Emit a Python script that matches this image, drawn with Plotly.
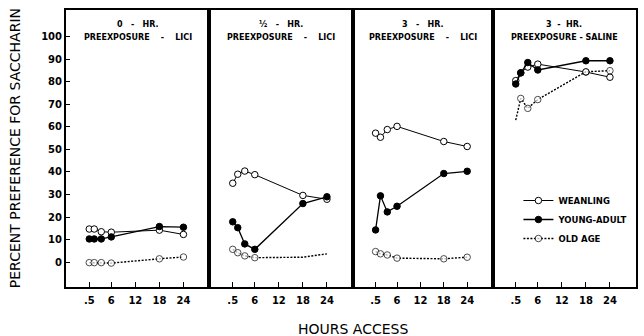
import plotly.graph_objects as go

# ---------------- data ----------------
hours = [0.5, 1.75, 3.5, 6, 18, 24]
tick_vals = [0.5, 6, 12, 18, 24]
tick_text = [".5", "6", "12", "18", "24"]
y_ticks = [0, 10, 20, 30, 40, 50, 60, 70, 80, 90, 100]

NB = "\u00a0"
panel_line1 = ["0" + NB * 3 + "-" + NB * 3 + "HR.", "½" + NB * 3 + "-" + NB * 3 + "HR.",
               "3" + NB * 3 + "-" + NB * 3 + "HR.", "3" + NB * 2 + "-" + NB * 2 + "HR."]
panel_line2 = ["PREEXPOSURE" + NB * 4 + "-" + NB * 4 + "LICI",
               "PREEXPOSURE" + NB * 4 + "-" + NB * 4 + "LICI",
               "PREEXPOSURE" + NB * 4 + "-" + NB * 4 + "LICI",
               "PREEXPOSURE" + NB + "-" + NB + "SALINE"]

weanling = [
    [14.7, 14.7, 13.5, 13.3, 14.2, 12.3],
    [35.0, 39.0, 40.4, 38.8, 29.6, 27.9],
    [57.2, 55.4, 58.8, 60.2, 53.5, 51.3],
    [80.5, 84.0, 86.5, 87.8, 84.3, 82.0],
]
young_adult = [
    [10.3, 10.3, 10.3, 11.2, 15.8, 15.5],
    [17.9, 15.3, 8.1, 5.7, 26.0, 29.0],
    [14.3, 29.4, 22.3, 24.8, 39.3, 40.3],
    [79.0, 83.9, 88.5, 85.2, 89.3, 89.3],
]
old_age = [
    [-0.2, -0.2, -0.2, -0.4, 1.5, 2.3],
    [5.7, 4.2, 2.8, 2.0, 2.2, 3.7],
    [4.7, 3.7, 3.2, 1.8, 1.5, 2.2],
    [63.0, 72.6, 68.2, 72.1, 84.4, 84.9],
]
old_age_marked = [
    [1, 1, 1, 1, 1, 1],
    [1, 1, 1, 1, 0, 0],
    [1, 1, 1, 1, 1, 1],
    [0, 1, 1, 1, 1, 1],
]
series_names = ["WEANLING", "YOUNG-ADULT", "OLD AGE"]

# ---------------- layout geometry ----------------
W, H = 644, 336
left, right, top, bottom = 66, 638, 10, 287
panel_edges = [66, 210, 354, 494, 638]
plot_w = right - left
plot_h = bottom - top
domains = [[(panel_edges[i] - left) / plot_w, (panel_edges[i + 1] - left) / plot_w]
           for i in range(4)]


def px_to_paper_y(py):
    return 1 - (py - top) / plot_h


def px_to_paper_x(px):
    return (px - left) / plot_w


FONT = "DejaVu Sans"
fig = go.Figure()

MS = 6.5
for i in range(4):
    xa = "x" if i == 0 else f"x{i + 1}"
    ya = "y" if i == 0 else f"y{i + 1}"
    show = (i == 0)
    fig.add_trace(go.Scatter(
        x=hours, y=weanling[i], mode="lines+markers", name=series_names[0],
        legendgroup="w", showlegend=show, xaxis=xa, yaxis=ya,
        line=dict(color="black", width=1),
        marker=dict(symbol="circle", size=MS, color="white",
                    line=dict(color="black", width=1)),
    ))
    fig.add_trace(go.Scatter(
        x=hours, y=young_adult[i], mode="lines+markers", name=series_names[1],
        legendgroup="y", showlegend=show, xaxis=xa, yaxis=ya,
        line=dict(color="black", width=1.3),
        marker=dict(symbol="circle", size=MS, color="black",
                    line=dict(color="black", width=1)),
    ))
    fig.add_trace(go.Scatter(
        x=hours, y=old_age[i], mode="lines+markers", name=series_names[2],
        legendgroup="o", showlegend=show, xaxis=xa, yaxis=ya,
        line=dict(color="black", width=1.4, dash="2px,1.5px"),
        marker=dict(symbol="circle", size=[MS * m for m in old_age_marked[i]],
                    color="white", line=dict(color="black", width=1)),
    ))

layout = dict(
    width=W, height=H,
    margin=dict(l=left, r=W - right, t=top, b=H - bottom, pad=0),
    paper_bgcolor="white", plot_bgcolor="white",
    font=dict(family=FONT, color="black"),
    legend=dict(x=px_to_paper_x(520), y=px_to_paper_y(186),
                xanchor="left", yanchor="top", bgcolor="rgba(0,0,0,0)",
                font=dict(family=FONT, size=8.5, weight="bold"),
                tracegroupgap=0, itemwidth=30),
)

for i in range(4):
    xk = "xaxis" if i == 0 else f"xaxis{i + 1}"
    yk = "yaxis" if i == 0 else f"yaxis{i + 1}"
    ya = "y" if i == 0 else f"y{i + 1}"
    layout[xk] = dict(
        domain=domains[i], range=[-5.3, 30.5], anchor=ya,
        tickmode="array", tickvals=tick_vals, ticktext=tick_text,
        ticks="inside", ticklen=5, tickwidth=1.2, tickcolor="black",
        ticklabelstandoff=3,
        showline=True, linecolor="black", linewidth=2, mirror=True,
        showgrid=False, zeroline=False,
        tickfont=dict(family=FONT, size=10, weight="bold"),
    )
    layout[yk] = dict(
        domain=[0, 1], range=[-11, 111.8], anchor="x" if i == 0 else f"x{i + 1}",
        tickmode="array", tickvals=y_ticks,
        ticks="inside" if i == 0 else "", ticklen=4, tickwidth=1.2, tickcolor="black",
        showticklabels=(i == 0),
        showline=True, linecolor="black", linewidth=2, mirror=True,
        showgrid=False, zeroline=False,
        tickfont=dict(family=FONT, size=10, weight="bold"),
    )

fig.update_layout(**layout)

# panel titles
annotations = []
for i in range(4):
    xr = "x domain" if i == 0 else f"x{i + 1} domain"
    annotations.append(dict(text=panel_line1[i], xref=xr, yref="paper", x=0.5,
                            y=px_to_paper_y(24), xanchor="center", yanchor="middle",
                            showarrow=False,
                            font=dict(family=FONT, size=8, weight="bold")))
    annotations.append(dict(text=panel_line2[i], xref=xr, yref="paper", x=0.5,
                            y=px_to_paper_y(37.5), xanchor="center", yanchor="middle",
                            showarrow=False,
                            font=dict(family=FONT, size=8, weight="bold")))

annotations.append(dict(text="PERCENT PREFERENCE FOR SACCHARIN", xref="paper", yref="paper",
                        x=px_to_paper_x(15), y=px_to_paper_y(148),
                        xanchor="center", yanchor="middle",
                        textangle=-90, showarrow=False,
                        font=dict(family=FONT, size=14)))
annotations.append(dict(text="HOURS ACCESS", xref="paper", yref="paper",
                        x=px_to_paper_x(354), y=px_to_paper_y(329),
                        xanchor="center", yanchor="middle",
                        showarrow=False, font=dict(family=FONT, size=14)))
fig.update_layout(annotations=annotations)

fig.write_html("out.html")
